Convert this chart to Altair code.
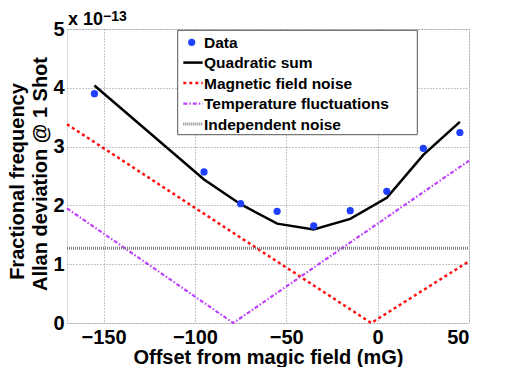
import altair as alt
import pandas as pd

# ---- data ----
data_x = [-155, -95, -75, -55, -35, -15, 5, 25, 45]
data_y = [3.90, 2.57, 2.03, 1.90, 1.65, 1.91, 2.24, 2.97, 3.24]
quad_x = [-155, -95, -75, -55, -35, -15, 5, 25, 45]
quad_y = [4.04, 2.44, 2.02, 1.69, 1.59, 1.77, 2.13, 2.86, 3.42]
mag_x = [-170, -3.5, 50]
mag_y = [3.38, 0.0, 1.05]
temp_x = [-170, -79, 50]
temp_y = [1.95, 0.0, 2.76]
ind_x = [-170, 50]
ind_y = [1.27, 1.27]
legend_labels = ["Data", "Quadratic sum", "Magnetic field noise",
                 "Temperature fluctuations", "Independent noise"]
y_title_lines = ["Fractional frequency", "Allan deviation @ 1 Shot"]
x_ticks = [-150, -100, -50, 0, 50]
y_ticks = [0, 1, 2, 3, 4, 5]

FONT = "Liberation Sans"
BLUE = "#2040ff"
RED = "#ff1010"
PURPLE = "#bf40ff"
GREY = "#808080"

xenc = alt.X("x:Q", scale=alt.Scale(domain=[-170, 50], nice=False, zero=False),
             axis=alt.Axis(values=x_ticks, title="Offset from magic field (mG)",
                           grid=True, gridDash=[1, 2], gridColor="#8c8c8c",
                           domain=False, ticks=False, labelPadding=4,
                           labelFont=FONT, labelFontSize=20, labelFontWeight="bold",
                           labelColor="black", titleFont=FONT, titleFontSize=20,
                           titleFontWeight="bold", titleColor="black", titlePadding=0))
yenc = alt.Y("y:Q", scale=alt.Scale(domain=[0, 5], nice=False),
             axis=alt.Axis(values=y_ticks, format="d", title=None,
                           grid=True, gridDash=[1, 2], gridColor="#8c8c8c",
                           domain=False, ticks=False, labelPadding=3,
                           labelFont=FONT, labelFontSize=20, labelFontWeight="bold",
                           labelColor="black"))

def df(xs, ys):
    return pd.DataFrame({"x": xs, "y": ys})

mag = alt.Chart(df(mag_x, mag_y)).mark_line(color=RED, strokeWidth=2.5, strokeDash=[3, 3]).encode(x=xenc, y=yenc)
temp = alt.Chart(df(temp_x, temp_y)).mark_line(color=PURPLE, strokeWidth=2.2, strokeDash=[4, 2, 1.5, 2]).encode(x=xenc, y=yenc)
ind = alt.Chart(df(ind_x, ind_y)).mark_line(color=GREY, strokeWidth=3, strokeDash=[1, 1]).encode(x=xenc, y=yenc)
quad = alt.Chart(df(quad_x, quad_y)).mark_line(color="black", strokeWidth=2.5).encode(x=xenc, y=yenc)
pts = alt.Chart(df(data_x, data_y)).mark_point(filled=True, color=BLUE, size=52, opacity=1).encode(x=xenc, y=yenc)

one = pd.DataFrame({"a": [0]})

# ---- y-axis title (two rotated lines) ----
ytitle = []
for txt, xx, yy in zip(y_title_lines, [-43, -20], [152.5, 145]):
    ytitle.append(alt.Chart(one).mark_text(
        text=txt, angle=270, align="center", baseline="alphabetic", font=FONT,
        fontSize=20, fontWeight="bold", color="black").encode(x=alt.value(xx), y=alt.value(yy)))

# ---- legend (manual) ----
leg_box = alt.Chart(one).mark_rect(fill="white", stroke="#555555", strokeWidth=1).encode(
    x=alt.value(110.7), x2=alt.value(350.3), y=alt.value(1.3), y2=alt.value(105.7))
row_y = [13.3, 33.6, 54.0, 74.6, 95.0]
leg_layers = [leg_box]
leg_layers.append(alt.Chart(one).mark_point(filled=True, color=BLUE, size=52, opacity=1).encode(
    x=alt.value(124.7), y=alt.value(row_y[0])))
styles = [
    dict(color="black", strokeWidth=2.5),
    dict(color=RED, strokeWidth=2.5, strokeDash=[3, 3]),
    dict(color=PURPLE, strokeWidth=2.2, strokeDash=[4, 2, 1.5, 2]),
    dict(color=GREY, strokeWidth=3, strokeDash=[1, 1]),
]
for i, st in enumerate(styles):
    leg_layers.append(alt.Chart(one).mark_rule(**st).encode(
        x=alt.value(116.3), x2=alt.value(135.7), y=alt.value(row_y[i + 1])))
for lab, yy in zip(legend_labels, row_y):
    leg_layers.append(alt.Chart(one).mark_text(
        text=lab, align="left", baseline="middle", font=FONT, fontSize=15.5,
        fontWeight="bold", color="black").encode(x=alt.value(137), y=alt.value(yy + 0.5)))

# ---- exponent label ----
exp1 = alt.Chart(one).mark_text(text="x 10", align="left", baseline="alphabetic", font=FONT,
                                fontSize=18, fontWeight="bold", color="black").encode(
    x=alt.value(1), y=alt.value(-4))
exp2 = alt.Chart(one).mark_text(text="\u221213", align="left", baseline="alphabetic", font=FONT,
                                fontSize=14, fontWeight="bold", color="black").encode(
    x=alt.value(36), y=alt.value(-8))

chart = alt.layer(mag, temp, ind, quad, pts, *ytitle, *leg_layers, exp1, exp2).properties(
    width=402, height=294,
    autosize=alt.AutoSizeParams(type="none"),
    padding={"left": 59, "top": 21, "right": 41, "bottom": 44},
).configure_view(stroke="#7a7a7a", strokeWidth=1).configure(background="white")

chart.save("out.html", embed_options={"renderer": "svg", "actions": False})
